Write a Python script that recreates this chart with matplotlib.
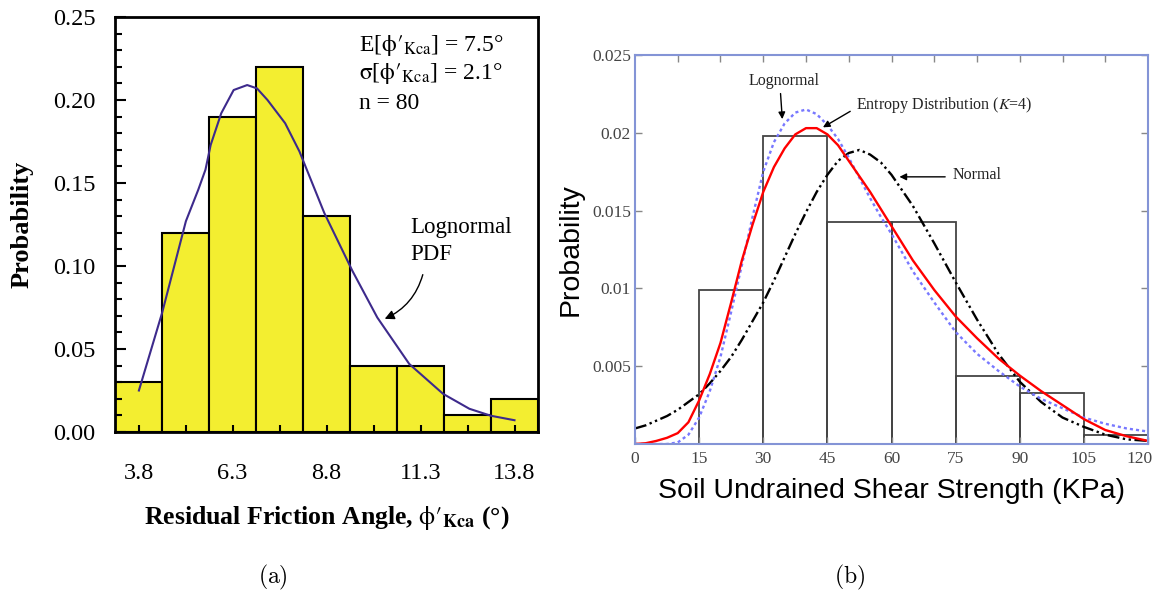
import matplotlib
matplotlib.use('Agg')
import matplotlib.pyplot as plt
from matplotlib.transforms import ScaledTranslation
import numpy as np

plt.rcParams['font.family'] = 'serif'
plt.rcParams['font.serif'] = ['Liberation Serif', 'DejaVu Serif']
plt.rcParams['mathtext.fontset'] = 'stix'

# ---- panel (a): residual friction angle ----
bin_centres_a = [3.8, 5.05, 6.3, 7.55, 8.8, 10.05, 11.3, 12.55, 13.8]
prob_a = [0.03, 0.12, 0.19, 0.22, 0.13, 0.04, 0.04, 0.01, 0.02]
labels_a = [3.8, 6.3, 8.8, 11.3, 13.8]

# lognormal pdf
logn_x_a = [3.81, 4.43, 5.06, 5.39, 5.58, 5.72, 6.00, 6.33, 6.69, 6.95, 7.23,
            7.70, 8.08, 8.74, 9.49, 10.15, 11.00, 11.90, 12.60, 13.17, 13.80]
logn_y_a = [0.025, 0.072, 0.127, 0.146, 0.158, 0.173, 0.192, 0.206, 0.209, 0.207, 0.200,
            0.186, 0.169, 0.132, 0.097, 0.069, 0.041, 0.023, 0.014, 0.0098, 0.0071]

# ---- panel (b): undrained shear strength ----
bin_left_b = [15, 30, 45, 60, 75, 90, 105]
prob_b = [0.0099, 0.0198, 0.0143, 0.0143, 0.0044, 0.0033, 0.00055]

x_b = [0, 2.5, 5, 7.5, 10, 12.5, 15, 17.5, 20, 22.5, 25, 27.5, 30, 32.5, 35, 37.5,
       40, 42.5, 45, 47.5, 50, 52.5, 55, 57.5, 60, 65, 70, 75, 80, 85, 90, 95,
       100, 105, 110, 115, 120]
entropy_b = [0.0, 0.00005, 0.0002, 0.0004, 0.0007, 0.0014, 0.0028, 0.0045, 0.0065, 0.0091,
             0.0118, 0.0141, 0.0162, 0.0178, 0.0190, 0.0199, 0.0203, 0.0203, 0.0199, 0.0192,
             0.0182, 0.0172, 0.0162, 0.0151, 0.0140, 0.0118, 0.0099, 0.0082, 0.0068, 0.0055,
             0.0044, 0.0034, 0.0025, 0.0016, 0.0009, 0.0005, 0.0002]
lognorm_b = [0.0, 0.0, 0.0, 0.0, 0.0001, 0.0006, 0.0017, 0.0034, 0.0056, 0.0085,
             0.0115, 0.0146, 0.0175, 0.0194, 0.0206, 0.0213, 0.0215, 0.0212, 0.0205, 0.0196,
             0.0184, 0.0171, 0.0158, 0.0146, 0.0135, 0.0111, 0.0091, 0.0072, 0.0058, 0.0047,
             0.0037, 0.0029, 0.0023, 0.0017, 0.0013, 0.0010, 0.0008]
normal_b = [0.0010, 0.0012, 0.0015, 0.0018, 0.0022, 0.0027, 0.0032, 0.0039, 0.0047, 0.0056,
            0.0067, 0.0079, 0.0091, 0.0105, 0.0120, 0.0135, 0.0149, 0.0162, 0.0173, 0.0182,
            0.0187, 0.0189, 0.0186, 0.0181, 0.0173, 0.0153, 0.0129, 0.0104, 0.0080, 0.0058,
            0.0040, 0.0027, 0.0017, 0.0011, 0.0006, 0.0003, 0.0002]

fig = plt.figure(figsize=(11.56, 5.94), dpi=100)

# ---------------- (a) ----------------
ax1 = fig.add_axes([0.0995, 0.2727, 0.3659, 0.6987])
ax1.bar(bin_centres_a, prob_a, width=1.25, color='#f3ee30', edgecolor='black', linewidth=1.5)
ax1.plot(logn_x_a, logn_y_a, color='#3d2a8c', lw=1.5)
ax1.set_xlim(3.175, 14.425)
ax1.set_ylim(0, 0.25)
ax1.set_xticks(labels_a)
ax1.set_xticklabels([f'{v:.1f}' for v in labels_a])
ax1.set_xticks(bin_centres_a, minor=True)
ax1.set_yticks(np.arange(0, 0.26, 0.05))
ax1.set_yticklabels([f'{v:.2f}' for v in np.arange(0, 0.26, 0.05)])
ax1.set_yticks(np.arange(0, 0.251, 0.01), minor=True)
ax1.tick_params(axis='x', which='both', direction='in', length=5, width=1.5, labelsize=17.5, pad=22)
ax1.tick_params(axis='y', which='major', direction='in', length=8, width=1.5, labelsize=17.5, pad=14)
ax1.tick_params(axis='y', which='minor', direction='in', length=5, width=1.5)
for s in ax1.spines.values():
    s.set_linewidth(2)
ax1.set_ylabel('Probability', fontsize=19, fontweight='bold', labelpad=14)
ax1.set_xlabel(r'Residual Friction Angle, $\mathrm{\phi}\prime_{\mathbf{Kca}}$ (°)',
               fontsize=18.5, fontweight='bold', labelpad=15)

ax1.text(9.66, 0.233, r'E[$\mathrm{\phi}\prime_{\rm Kca}$] = 7.5°', fontsize=17, va='center')
ax1.text(9.66, 0.2157, r'$\mathrm{\sigma}$[$\mathrm{\phi}\prime_{\rm Kca}$] = 2.1°', fontsize=17, va='center')
ax1.text(9.66, 0.198, 'n = 80', fontsize=17, va='center')
ax1.text(11.02, 0.1229, 'Lognormal', fontsize=16.5, va='center')
ax1.text(11.02, 0.107, 'PDF', fontsize=16.5, va='center')
ax1.annotate('', xy=(10.28, 0.0675), xytext=(11.38, 0.0964),
             arrowprops=dict(arrowstyle='-|>', color='black', lw=1,
                             connectionstyle='arc3,rad=-0.25', mutation_scale=14))

# ---------------- (b) ----------------
ax2 = fig.add_axes([0.5493, 0.2525, 0.4438, 0.6549])
ax2.bar(bin_left_b, prob_b, width=15, align='edge', fill=False, edgecolor='#444444', linewidth=1.3)
ax2.plot(x_b, normal_b, color='black', lw=1.7, linestyle=(0, (5, 1.5, 1, 1.5, 1, 1.5)))
ax2.plot(x_b, lognorm_b, color='#7878ff', lw=1.7, linestyle=(0, (1.3, 1.3)))
ax2.plot(x_b, entropy_b, color='#ff0000', lw=1.7)
ax2.set_xlim(0, 120)
ax2.set_ylim(0, 0.025)
ax2.set_xticks(range(0, 121, 15))
ax2.set_yticks([0.005, 0.01, 0.015, 0.02, 0.025])
ax2.set_yticklabels(['0.005', '0.01', '0.015', '0.02', '0.025'])
ax2.tick_params(axis='both', direction='in', length=5, width=1, color='#888888',
                labelsize=12.5, labelcolor='#444444', right=True)
ax2.tick_params(axis='x', pad=5)
ax2.tick_params(axis='y', pad=3)
last = ax2.get_xticklabels()[-1]
last.set_transform(last.get_transform() + ScaledTranslation(-6 / 72, 0, fig.dpi_scale_trans))
top = ax2.secondary_xaxis('top')
top.set_xticks(range(10, 120, 10))
top.tick_params(direction='in', length=5, width=1, color='#888888', labeltop=False)
top.spines['top'].set_visible(False)
for s in ax2.spines.values():
    s.set_color('#8494d6')
    s.set_linewidth(1.5)
ax2.set_xlabel('Soil Undrained Shear Strength (KPa)', fontsize=20.5,
               fontfamily='Liberation Sans', labelpad=8)
ax2.set_ylabel('Probability', fontsize=20.5, fontfamily='Liberation Sans', labelpad=6)

ax2.text(34.9, 0.02334, 'Lognormal', fontsize=11.5, ha='center', va='center', color='#222222')
ax2.annotate('', xy=(34.5, 0.0207), xytext=(34.0, 0.0227),
             arrowprops=dict(arrowstyle='-|>', color='black', lw=1, mutation_scale=10))
ax2.text(51.8, 0.02176, r'Entropy Distribution ($K$=4)', fontsize=11.5, va='center', color='#222222')
ax2.annotate('', xy=(43.4, 0.02026), xytext=(50.9, 0.02147),
             arrowprops=dict(arrowstyle='-|>', color='black', lw=1, mutation_scale=10))
ax2.text(74.3, 0.01728, 'Normal', fontsize=11.5, va='center', color='#222222')
ax2.annotate('', xy=(61.2, 0.01717), xytext=(73.2, 0.01717),
             arrowprops=dict(arrowstyle='-|>', color='black', lw=1, mutation_scale=10))

# captions
fig.text(0.236, 0.018, r'$\mathrm{(a)}$', fontsize=17, math_fontfamily='cm', ha='center')
fig.text(0.735, 0.018, r'$\mathrm{(b)}$', fontsize=17, math_fontfamily='cm', ha='center')

fig.savefig('out.png', dpi=100)
